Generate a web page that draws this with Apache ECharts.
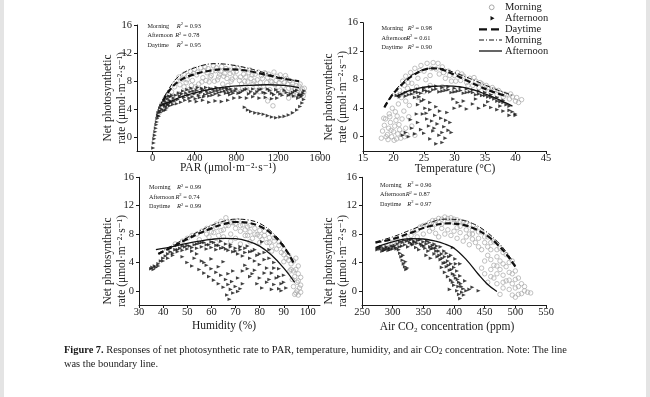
<!DOCTYPE html>
<html><head><meta charset="utf-8">
<script src="https://cdn.jsdelivr.net/npm/echarts@6/dist/echarts.min.js"></script>
<style>html,body{margin:0;padding:0;background:#fff}#c{width:650px;height:397px}</style>
</head><body><div id="c"></div>
<script>
// ---------- tick labels ----------
const yTicks = [0, 4, 8, 12, 16];
const parTicks = [0, 400, 800, 1200, 1600];
const tempTicks = [15, 20, 25, 30, 35, 40, 45];
const humTicks = [30, 40, 50, 60, 70, 80, 90, 100];
const co2Ticks = [250, 300, 350, 400, 450, 500, 550];

const r2Par = ['0.93', '0.78', '0.95'];
const r2Temp = ['0.98', '0.61', '0.90'];
const r2Hum = ['0.99', '0.74', '0.99'];
const r2Co2 = ['0.96', '0.87', '0.97'];

// ---------- PAR panel ----------
const parMorning = [[60,3.5],[90,4.8],[120,5.6],[150,6.0],[180,6.5],[210,7.2],[230,8.0],[250,8.6],[260,7.5],[280,8.3],[300,9.0],[320,7.8],[340,8.8],[360,9.4],[380,8.1],[400,9.7],[420,8.9],[440,7.6],[460,9.9],[480,8.5],[500,10.0],[520,9.2],[540,7.9],[560,8.8],[580,10.2],[600,9.5],[620,8.2],[640,9.0],[660,10.1],[680,8.7],[700,9.8],[720,7.4],[740,9.1],[760,8.3],[780,10.0],[800,9.4],[820,7.0],[840,8.6],[860,9.7],[880,8.0],[900,6.9],[920,9.2],[940,8.4],[960,7.6],[980,9.0],[1000,8.2],[1020,6.5],[1040,8.8],[1060,7.3],[1080,9.1],[1100,8.5],[1120,6.8],[1140,7.9],[1160,9.3],[1180,8.1],[1200,7.2],[1220,8.9],[1240,6.6],[1260,7.8],[1280,8.4],[1300,7.0],[1320,6.3],[1340,7.6],[1360,6.9],[1380,6.1],[1400,7.3],[1420,6.6],[1440,5.9],[1450,7.0],[1350,6.0],[1300,5.6],[1150,4.5],[1100,5.2],[250,6.2],[350,6.8],[450,6.5],
  [300,7.2],[330,8.2],[370,7.4],[390,9.1],[410,7.2],[430,9.3],[470,7.9],[490,9.5],[510,8.1],[530,9.8],[550,8.6],[570,9.4],[590,8.0],[610,9.9],[630,8.6],[650,9.4],[670,7.6],[690,9.1],[710,8.4],[730,9.6],[750,8.0],[770,9.3],[790,8.6],[810,9.9],[830,8.1],[850,7.6],[870,9.0],[890,8.6],[910,7.9],[930,9.6],[950,8.9],[970,8.0],[990,7.2],[1010,9.3],[1030,7.8],[1050,8.4],[1070,9.2],[1090,7.8],[1110,9.0],[1130,8.0],[1170,7.5],[1190,8.7],[1210,7.8],[1230,8.2],[1250,7.3],[1270,8.8],[1290,7.6],[1310,8.1],[1330,7.2],[1370,7.4],[1390,6.7],[1410,7.6],[1430,6.9],[1445,6.4]];
const parAfternoon = [[5,-1.5],[10,-0.8],[15,-0.2],[20,0.3],[25,0.8],[30,1.3],[35,1.8],[40,2.2],[45,2.7],[50,3.1],[55,3.5],[60,3.0],[65,3.8],[70,4.2],[75,3.6],[80,4.5],[90,4.0],[100,4.8],[110,5.2],[120,4.4],[130,5.0],[140,5.5],[150,4.8],[160,5.3],[170,5.8],[180,5.1],[200,5.6],[220,6.0],[240,5.4],[260,5.9],[280,6.2],[300,5.7],[320,6.3],[340,6.0],[360,6.5],[380,5.8],[400,6.2],[420,6.7],[440,6.0],[460,6.4],[480,6.8],[500,6.1],[520,6.6],[540,5.9],[560,6.4],[580,6.9],[600,6.2],[620,6.7],[640,6.0],[660,6.5],[680,7.0],[700,6.3],[720,6.8],[740,6.1],[760,6.6],[800,6.9],[840,6.4],[880,6.8],[920,6.2],[960,6.9],[1000,6.5],[1040,6.9],[1080,6.3],[1120,6.7],[1160,6.1],[1200,6.5],[1240,6.0],[1280,6.4],[1320,6.2],[1360,6.6],[1400,6.0],[1440,6.3],[1420,5.8],[360,5.2],[420,5.1],[480,5.3],[540,5.0],[600,5.2],[660,5.1],[720,5.3],[780,5.6],[840,5.7],[900,5.6],[960,5.8],[1020,5.6],[1080,5.7],[1140,5.5],[1190,5.6],[880,4.3],[910,3.9],[940,3.7],[980,3.5],[1020,3.4],[1060,3.3],[1100,3.1],[1140,2.9],[1180,2.8],[1220,2.9],[1260,3.0],[1300,3.2],[1340,3.5],[1380,3.9],[1410,4.4],[1430,4.9],[1445,5.4],
  [105,3.8],[115,4.6],[125,3.9],[135,4.2],[145,4.6],[155,5.9],[165,4.5],[175,5.0],[185,6.0],[195,4.7],[210,5.2],[230,4.8],[250,6.3],[270,5.0],[290,6.6],[310,5.3],[330,6.8],[350,5.6],[370,7.0],[390,6.6],[410,5.5],[430,7.1],[450,5.7],[470,7.0],[490,5.8],[510,7.1],[530,6.3],[550,7.0],[570,6.0],[590,6.6],[610,7.1],[630,6.4],[650,6.9],[690,6.6],[710,7.0],[730,6.4],[750,6.9],[770,6.3],[790,6.6],[820,6.3],[860,6.6],[900,6.9],[940,6.5],[980,6.2],[1020,6.8],[1060,6.4],[1100,6.9],[1140,6.3],[1180,6.8],[1220,6.2],[1260,6.7],[1300,6.0],[1340,6.4],[1380,6.7],[1410,6.1],[1450,6.6],[1350,5.9],[1390,5.6],[1430,6.0]];
const parFitDay = [[100,5.2],[150,6.5],[250,8.0],[400,9.0],[550,9.5],[700,9.7],[850,9.6],[1000,9.2],[1200,8.5],[1400,8.0]];
const parFitMorning = [[70,4.5],[150,6.8],[250,8.7],[400,9.9],[600,10.5],[800,10.2],[1000,9.5],[1200,8.6],[1400,8.0]];
const parFitAfternoon = [[70,4.5],[150,5.0],[300,5.9],[500,6.7],[700,7.2],[900,7.4],[1100,7.5],[1250,7.4],[1400,7.1]];

// ---------- Temperature panel ----------
const tempMorning = [[18,-0.2],[18.2,0.8],[18.5,1.6],[18.7,2.5],[19,0.3],[19.2,1.2],[19.5,2.0],[19.7,0.0],[20,0.7],[20.2,1.5],[20.5,-0.3],[20.7,0.4],[21,1.0],[21.2,-0.2],[21.5,0.5],[19.3,3.2],[19.8,4.0],[20.3,3.5],[20.8,4.6],[21.3,5.5],[18.4,2.6],[21,6.5],[21.5,7.8],[22,8.5],[22.3,6.8],[22.8,9.0],[23,7.5],[23.5,9.6],[24,8.2],[24.5,10.0],[25,9.2],[25.5,10.3],[26,8.6],[26.5,10.4],[27,9.5],[27.5,8.8],[28,9.8],[28.5,8.2],[29,9.2],[29.5,7.8],[30,8.6],[30.5,9.0],[31,7.9],[31.5,8.5],[32,7.6],[32.5,8.2],[33,7.2],[33.5,7.8],[34,6.9],[34.5,7.4],[35,6.6],[35.5,6.9],[36,6.2],[36.5,6.6],[37,5.9],[37.5,6.2],[38,5.6],[38.5,5.9],[39,5.3],[39.5,5.6],[40,5.0],[40.5,4.8],[41,5.2],[22.5,2.8],[23,1.5],[22,1.2],[23.5,0.2],[25,6.3],[26,7.2],[28,7.0],[30,6.5],[24,5.5],
  [18.8,0.0],[19.1,-0.4],[19.6,0.9],[20.1,-0.5],[20.4,2.3],[20.9,1.7],[21.4,2.5],[21.8,0.0],[22.2,0.3],[19.4,2.8],[20.6,2.9],[21.7,3.6],[22.6,4.4],[23.2,6.2],[23.8,7.0],[24.3,9.3],[25.3,8.0],[26.2,9.6],[27.3,10.3],[28.2,9.0],[29.2,8.6],[30.2,7.8],[31.2,8.8],[32.2,7.2],[33.2,8.3],[34.2,7.6],[35.2,7.2],[36.2,6.9],[37.2,6.5],[38.2,6.0],[39.2,6.0],[40.2,5.5],[22,5.0],[21.8,7.2],[22.4,7.6]];
const tempAfternoon = [[20.5,5.8],[21,5.9],[21.5,6.0],[22,6.2],[22.5,5.9],[23,6.5],[23.5,6.3],[24,6.7],[24.5,6.1],[25,6.8],[25.5,6.4],[26,7.0],[26.5,6.6],[27,7.1],[27.5,6.3],[28,6.9],[28.5,6.5],[29,7.0],[29.5,6.2],[30,6.8],[30.5,6.4],[31,6.9],[31.5,6.1],[32,6.7],[32.5,6.3],[33,6.6],[33.5,5.9],[34,6.4],[34.5,5.8],[35,6.2],[35.5,5.6],[36,5.9],[36.5,5.3],[37,5.5],[37.5,4.9],[38,5.1],[38.5,4.5],[39,4.3],[39.5,3.5],[40,3.2],[39,3.0],[38,3.6],[37,3.8],[36,4.1],[35,4.4],[34,4.0],[33,4.6],[32,3.9],[31,4.3],[30,4.0],[21.5,0.2],[22,0.6],[22.5,0.0],[23,1.2],[23.5,0.4],[24,2.0],[24,4.5],[24.5,1.0],[24.8,3.2],[25,0.5],[25.2,4.0],[25.5,2.5],[25.8,1.5],[26,3.8],[26,-0.3],[26.3,2.2],[26.5,0.8],[26.8,3.0],[27,-1.0],[27.2,1.8],[27.5,0.2],[27.8,2.6],[28,0.6],[28.3,1.4],[28.5,-0.2],[28.8,3.4],[29,0.9],[29.3,2.0],[24.2,5.6],[25,5.2],[26,4.8],[27,4.2],[23.5,5.5],[29.5,0.6],[28,-0.8],
  [21,5.6],[22,5.7],[23,6.0],[24,6.2],[25,6.5],[26,6.3],[27,6.7],[28,6.4],[29,6.6],[30,6.3],[31,6.5],[32,6.2],[33,6.2],[34,6.0],[35,5.8],[36,5.5],[37,5.0],[38,4.8],[39,3.7],[40,3.0],[31.5,5.0],[33.5,5.3],[35.5,4.9],[37.5,4.3],[30.5,4.8],[29.8,5.3],[24.6,5.0],[25.4,3.3],[26.7,1.2],[27.6,3.6],[28.6,2.3],[23.8,3.2],[22.8,2.4]];
const tempFitDay = [[18.5,4.1],[19.5,5.5],[21,7.0],[23,8.5],[25,9.4],[26.5,9.6],[28,9.4],[30,8.7],[32,7.9],[34,7.1],[36,6.4],[38.5,5.7]];
const tempFitMorning = [[18.5,4.3],[20,6.2],[22,8.0],[24,9.1],[26,9.6],[27.5,9.6],[30,9.0],[33,8.0],[36,6.9],[39.5,5.8]];
const tempFitAfternoon = [[20.5,5.6],[22,6.3],[24,6.8],[26,7.05],[28.5,7.15],[31,7.0],[33,6.6],[35,6.0],[37,5.3],[39.5,4.3]];

// ---------- Humidity panel ----------
const humMorning = [[45,6.6],[48,7.0],[50,7.4],[52,7.8],[54,8.0],[55,7.2],[56,8.4],[58,8.8],[59,7.6],[60,9.0],[61,8.2],[62,9.4],[63,7.8],[64,9.8],[65,8.6],[66,10.3],[67,9.2],[68,8.0],[69,9.6],[70,8.8],[71,9.9],[72,8.4],[73,9.3],[74,7.8],[75,9.0],[76,8.3],[77,7.4],[78,8.8],[79,7.9],[80,8.5],[81,7.2],[82,7.8],[83,6.8],[84,7.5],[85,6.3],[86,7.0],[87,5.9],[88,6.4],[89,5.4],[90,5.8],[91,4.6],[92,5.0],[93,3.8],[94,4.2],[95,3.0],[94.5,2.0],[95.5,1.2],[96,2.4],[96.5,0.4],[95,-0.3],[96,-0.6],[97,0.8],[93.5,1.6],[94,0.6],[92.5,2.8],[97,1.9],[96,3.5],[95,4.6],[62,6.8],[68,7.0],[72,6.6],[76,6.9],
  [58,8.0],[60,8.3],[62,8.9],[64,8.5],[66,9.2],[68,9.6],[70,9.5],[72,9.2],[74,8.6],[76,9.2],[78,8.0],[80,7.7],[82,8.4],[84,6.8],[86,7.5],[88,6.9],[90,5.1],[92,4.3],[65,7.6],[70,7.4],[75,7.8],[80,6.8],[85,5.6],[90,4.1],[93,3.0],[94,2.8],[96,1.4],[97,-0.2],[95.5,0.0],[94.5,-0.5]];
const humAfternoon = [[35,3.1],[35.5,3.3],[36,3.0],[36.5,3.5],[37,3.3],[38,3.8],[39,4.2],[40,4.6],[41,4.9],[42,5.2],[43,5.5],[44,5.3],[45,5.8],[46,5.5],[47,6.0],[48,5.7],[49,6.2],[50,5.9],[51,6.3],[52,5.6],[53,6.5],[54,6.0],[55,6.7],[56,6.2],[57,6.8],[58,5.9],[59,6.5],[60,6.1],[61,6.8],[62,5.8],[63,6.4],[64,7.0],[65,6.1],[66,6.6],[67,5.7],[68,6.2],[69,5.5],[70,6.0],[71,5.2],[72,5.8],[73,4.9],[74,5.4],[75,6.3],[76,4.6],[77,5.6],[78,4.2],[79,5.0],[80,3.7],[81,6.9],[82,4.4],[83,3.2],[84,5.8],[85,2.5],[86,4.0],[87,1.8],[88,3.1],[89,1.0],[90,2.2],[91,0.4],[88,0.3],[86,0.9],[84,1.6],[89,0.0],[48,4.8],[50,4.0],[52,3.5],[53,4.6],[55,3.0],[56,4.2],[57,2.5],[58,3.6],[59,2.0],[60,3.1],[61,1.5],[62,2.6],[63,1.0],[64,2.2],[65,0.5],[66,1.6],[66.5,-0.6],[67,0.9],[67.5,-1.2],[68,0.2],[68.5,1.3],[69,-0.3],[70,0.6],[71,-0.1],[72,0.3],[73,2.8],[74,3.6],[76,2.0],[78,2.9],[80,1.8],[82,2.5],
  [38,3.5],[40,4.2],[42,4.6],[44,5.0],[46,5.8],[48,6.3],[50,6.4],[52,6.1],[54,6.6],[56,6.8],[58,6.5],[60,6.9],[62,6.4],[64,6.0],[66,5.9],[68,6.5],[70,5.6],[72,6.2],[74,6.0],[76,5.5],[78,5.8],[80,5.2],[82,5.4],[84,4.6],[86,3.2],[88,2.0],[90,1.2],[54,5.2],[57,4.0],[60,4.5],[63,3.4],[65,4.1],[67,2.4],[69,2.8],[71,1.8],[73,1.0],[75,3.1],[77,2.4],[79,1.0],[81,0.4],[83,1.2],[85,0.2]];
const humFitDay = [[38,5.2],[45,6.4],[50,7.3],[55,8.1],[60,8.8],[65,9.4],[70,9.7],[75,9.6],[80,9.1],[85,8.0],[90,6.2],[94,4.0]];
const humFitMorning = [[38,5.3],[45,6.6],[50,7.5],[55,8.4],[60,9.2],[65,9.8],[70,10.1],[75,10.0],[80,9.5],[85,8.3],[90,6.4],[94,4.0]];
const humFitAfternoon = [[37,5.8],[45,6.3],[50,6.7],[55,7.0],[60,7.25],[65,7.4],[70,7.35],[75,7.0],[80,6.3],[85,5.0],[90,3.2],[94.5,1.2]];

// ---------- CO2 panel ----------
const co2Morning = [[290,6.2],[300,6.8],[310,7.0],[320,7.4],[330,7.8],[335,8.3],[340,8.6],[345,9.0],[350,8.0],[355,9.3],[360,9.6],[365,8.8],[370,9.9],[375,10.2],[380,9.4],[385,10.4],[390,9.8],[395,10.3],[400,9.6],[405,10.0],[410,9.1],[415,9.7],[420,8.6],[425,9.3],[430,8.0],[435,8.8],[440,7.4],[445,8.3],[450,6.8],[455,7.6],[460,5.8],[465,6.9],[470,4.8],[475,6.0],[480,3.8],[485,5.1],[490,2.6],[495,4.2],[500,1.6],[505,0.6],[510,1.0],[515,0.0],[520,-0.2],[525,-0.3],[490,0.2],[495,-0.6],[500,-0.9],[485,1.4],[480,2.2],[475,3.0],[470,2.4],[465,3.6],[460,4.4],[455,5.0],[450,4.2],[445,5.8],[440,6.2],[435,6.8],[430,7.3],[425,6.5],[420,7.6],[415,7.0],[410,8.2],[405,7.4],[400,8.4],[395,7.8],[390,8.6],[385,8.0],[380,8.8],[375,7.6],[370,8.1],[460,2.0],[470,1.0],[480,0.4],[500,0.4],[510,-0.4],[445,3.2],[455,1.2],[475,-0.5],
  [330,7.0],[340,7.6],[350,9.2],[360,8.4],[365,9.9],[370,9.4],[380,10.1],[390,10.2],[400,10.1],[405,8.9],[410,9.8],[420,9.6],[425,8.0],[430,8.6],[440,8.3],[450,7.6],[455,6.2],[460,6.8],[470,5.8],[475,4.2],[480,5.4],[485,3.4],[490,4.0],[495,2.4],[500,2.8],[505,1.8],[495,1.0],[505,-0.5],[515,0.6],[490,1.5],[480,1.2],[470,3.5],[460,3.0],[450,2.4],[465,1.8]];
const co2Afternoon = [[275,5.8],[278,6.1],[280,5.9],[283,5.6],[285,6.0],[288,5.8],[290,6.2],[293,5.7],[295,6.0],[298,6.3],[300,5.9],[303,6.4],[305,6.1],[308,6.6],[310,5.8],[312,6.9],[315,6.3],[318,7.1],[320,6.5],[323,7.0],[325,6.2],[328,6.8],[330,7.2],[333,6.5],[335,7.0],[338,6.1],[340,6.7],[343,5.8],[345,7.2],[348,6.4],[350,6.9],[353,6.0],[355,6.6],[358,5.6],[360,6.8],[363,5.9],[365,6.4],[368,5.2],[370,6.0],[373,4.8],[375,5.6],[378,4.4],[380,5.2],[383,3.9],[385,4.8],[388,3.4],[390,4.2],[393,2.9],[395,3.8],[398,2.4],[400,3.3],[403,1.8],[405,2.8],[408,1.2],[410,2.1],[412,0.6],[405,0.0],[408,-0.5],[410,-1.1],[400,0.8],[395,1.5],[415,0.3],[420,0.0],[425,0.2],[430,0.5],[440,0.0],[418,1.4],[390,2.0],[385,2.6],[380,3.3],[312,5.3],[314,4.8],[316,4.3],[318,3.8],[320,3.4],[322,3.0],[324,3.2],[317,5.0],[321,4.1],[355,5.0],[362,4.6],[372,6.3],[388,5.3],[395,5.0],[402,4.5],[410,3.8],[398,6.1],
  [276,6.0],[281,6.2],[286,5.7],[291,6.0],[296,5.8],[301,6.2],[306,5.9],[311,6.2],[316,6.8],[326,7.2],[331,6.6],[336,6.8],[341,7.1],[346,6.6],[351,6.3],[356,7.0],[361,6.2],[366,6.0],[371,5.6],[376,5.0],[381,4.6],[386,4.0],[391,3.6],[396,3.0],[401,2.2],[406,1.6],[411,1.0],[413,-0.2],[403,3.8],[392,4.8],[384,5.6],[378,6.2],[368,6.6],[407,0.6],[398,1.2],[393,0.2],[416,-0.6]];
const co2FitDay = [[272,6.8],[300,7.3],[330,8.2],[360,9.1],[390,9.5],[415,9.3],[435,8.7],[455,7.7],[470,6.6],[485,5.2],[500,3.4]];
const co2FitMorning = [[272,6.9],[300,7.6],[330,8.6],[360,9.6],[385,10.1],[410,10.0],[430,9.5],[450,8.5],[470,7.0],[485,5.5],[500,3.6]];
const co2FitAfternoon = [[272,6.1],[300,6.9],[330,7.35],[350,7.3],[370,7.0],[385,6.6],[400,6.0],[420,4.4],[440,2.3],[455,0.9],[470,-0.1]];

// ---------- build ----------
const SERIF = '"Liberation Serif", "DejaVu Serif", serif';
const INK = '#1a1a1a';
const grids = [
  {left:137, top:25, width:183, height:126.5},
  {left:363, top:22.7, width:183, height:128.3},
  {left:139, top:177.3, width:181, height:127.7},
  {left:362, top:177.3, width:184, height:127.7}
];
function plain(v){ return String(v); }
function xAx(i, min, max, ticks){
  return {type:'value', gridIndex:i, min:min, max:max,
    axisLine:{show:true, onZero:false, lineStyle:{color:INK, width:1}},
    axisTick:{show:true, length:3, customValues:ticks, lineStyle:{color:INK}},
    axisLabel:{customValues:ticks, formatter:plain, margin:1.5, fontFamily:SERIF, fontSize:10.5, color:INK},
    splitLine:{show:false}};
}
function yAx(i){
  return {type:'value', gridIndex:i, min:-2, max:16,
    axisLine:{show:true, onZero:false, lineStyle:{color:INK, width:1}},
    axisTick:{show:true, length:3, customValues:yTicks, lineStyle:{color:INK}},
    axisLabel:{customValues:yTicks, formatter:plain, margin:5, fontFamily:SERIF, fontSize:10.5, color:INK},
    splitLine:{show:false}};
}
function morningPts(i, data){
  return {type:'scatter', xAxisIndex:i, yAxisIndex:i, data:data, symbol:'circle', symbolSize:4.5,
    itemStyle:{color:'rgba(255,255,255,0)', borderColor:'#a9a9a9', borderWidth:0.9}, z:2, silent:true};
}
function afternoonPts(i, data){
  return {type:'scatter', xAxisIndex:i, yAxisIndex:i, data:data, symbol:'triangle', symbolRotate:-90, symbolSize:[3.6,4],
    itemStyle:{color:'#111'}, z:3, silent:true};
}
function fit(i, data, kind){
  const ls = kind==='day' ? {color:'#111', width:2.2, type:[6,3]}
           : kind==='morning' ? {color:'#111', width:1, type:[5,2,1,2]}
           : {color:'#111', width:1.3, type:'solid'};
  return {type:'line', xAxisIndex:i, yAxisIndex:i, data:data, smooth:0.4, showSymbol:false, lineStyle:ls, z:5, silent:true};
}
const series = [
  morningPts(0, parMorning), afternoonPts(0, parAfternoon), fit(0, parFitDay,'day'), fit(0, parFitMorning,'morning'), fit(0, parFitAfternoon,'afternoon'),
  morningPts(1, tempMorning), afternoonPts(1, tempAfternoon), fit(1, tempFitDay,'day'), fit(1, tempFitMorning,'morning'), fit(1, tempFitAfternoon,'afternoon'),
  morningPts(2, humMorning), afternoonPts(2, humAfternoon), fit(2, humFitDay,'day'), fit(2, humFitMorning,'morning'), fit(2, humFitAfternoon,'afternoon'),
  morningPts(3, co2Morning), afternoonPts(3, co2Afternoon), fit(3, co2FitDay,'day'), fit(3, co2FitMorning,'morning'), fit(3, co2FitAfternoon,'afternoon')
];

const graphic = [];
// page edge bands
graphic.push({type:'rect', left:0, top:0, shape:{width:4, height:397}, style:{fill:'#e4e4e4'}, silent:true});
graphic.push({type:'rect', left:646, top:0, shape:{width:4, height:397}, style:{fill:'#e4e4e4'}, silent:true});

// y axis titles
const yTitle = 'Net photosynthetic\nrate (μmol·m⁻²·s⁻¹)';
[[115,98],[336,97],[115,261],[336,261]].forEach(function(p){
  graphic.push({type:'text', x:p[0], y:p[1], rotation:Math.PI/2,
    style:{text:yTitle, fontFamily:SERIF, fontSize:11.5, lineHeight:14, fill:INK, align:'center', verticalAlign:'middle'}, silent:true});
});
// x axis titles
[['PAR (μmol·m⁻²·s⁻¹)',228,167.5],['Temperature (°C)',455,168.5],['Humidity (%)',224,325.5],['Air CO₂ concentration (ppm)',447,327]].forEach(function(t){
  graphic.push({type:'text', x:t[1], y:t[2], style:{text:t[0], fontFamily:SERIF, fontSize:11.5, fill:INK, align:'center', verticalAlign:'middle'}, silent:true});
});
// R2 annotations
function r2Block(x, y, vals, rx){
  const names = ['Morning','Afternoon','Daytime'];
  names.forEach(function(n, k){
    graphic.push({type:'text', x:x, y:y+k*9.6, style:{text:n, fontFamily:SERIF, fontSize:6.2, fill:INK, verticalAlign:'middle'}, silent:true});
    graphic.push({type:'text', x:rx + (k===1 ? -1.6 : 0), y:y+k*9.6, style:{text:'{i|R}{s|2}{n| = '+vals[k]+'}', fontFamily:SERIF, fill:INK, verticalAlign:'middle',
      rich:{i:{fontFamily:SERIF, fontStyle:'italic', fontSize:6.4, fill:INK}, s:{fontFamily:SERIF, fontSize:4.6, fill:INK, padding:[0,0,4,0]}, n:{fontFamily:SERIF, fontSize:6.4, fill:INK}}}, silent:true});
  });
}
r2Block(147.5, 26, r2Par, 176.8);
r2Block(381.5, 28.5, r2Temp, 407.8);
r2Block(149, 187.5, r2Hum, 177);
r2Block(380, 185, r2Co2, 407.3);

// legend (top-right panel)
const lgY = [7.3, 18.3, 29.3, 40, 51];
const lgText = ['Morning','Afternoon','Daytime','Morning','Afternoon'];
graphic.push({type:'circle', shape:{cx:491.7, cy:lgY[0], r:2.4}, style:{fill:'none', stroke:'#a9a9a9', lineWidth:1}, silent:true});
graphic.push({type:'polygon', shape:{points:[[490.5,lgY[1]-2.3],[494.5,lgY[1]],[490.5,lgY[1]+2.3]]}, style:{fill:'#111'}, silent:true});
graphic.push({type:'line', shape:{x1:479, y1:lgY[2], x2:502, y2:lgY[2]}, style:{stroke:'#111', lineWidth:2.2, lineDash:[8,4]}, silent:true});
graphic.push({type:'line', shape:{x1:479, y1:lgY[3], x2:502, y2:lgY[3]}, style:{stroke:'#111', lineWidth:1, lineDash:[5,2,1,2]}, silent:true});
graphic.push({type:'line', shape:{x1:479, y1:lgY[4], x2:502, y2:lgY[4]}, style:{stroke:'#111', lineWidth:1.3}, silent:true});
lgText.forEach(function(t,k){
  graphic.push({type:'text', x:505, y:lgY[k], style:{text:t, fontFamily:SERIF, fontSize:10.5, fill:INK, verticalAlign:'middle'}, silent:true});
});

// caption
graphic.push({type:'text', x:64, y:350, style:{
  text:'{b|Figure 7.} Responses of net photosynthetic rate to PAR, temperature, humidity, and air CO{s|2} concentration. Note: The line',
  fontFamily:SERIF, fontSize:10.4, fill:INK, verticalAlign:'middle',
  rich:{b:{fontFamily:SERIF, fontWeight:'bold', fontSize:10.4, fill:INK}, s:{fontFamily:SERIF, fontSize:7.4, fill:INK, padding:[4,0,0,0]}}}, silent:true});
graphic.push({type:'text', x:64, y:364.3, style:{text:'was the boundary line.', fontFamily:SERIF, fontSize:10.4, fill:INK, verticalAlign:'middle'}, silent:true});

const chart = echarts.init(document.getElementById('c'), null, {renderer:'canvas'});
chart.setOption({
  animation:false,
  backgroundColor:'#ffffff',
  grid: grids,
  xAxis: [xAx(0,-150,1600,parTicks), xAx(1,15,45,tempTicks), xAx(2,30,105,humTicks), xAx(3,250,550,co2Ticks)],
  yAxis: [yAx(0), yAx(1), yAx(2), yAx(3)],
  series: series,
  graphic: graphic
});
</script></body></html>
